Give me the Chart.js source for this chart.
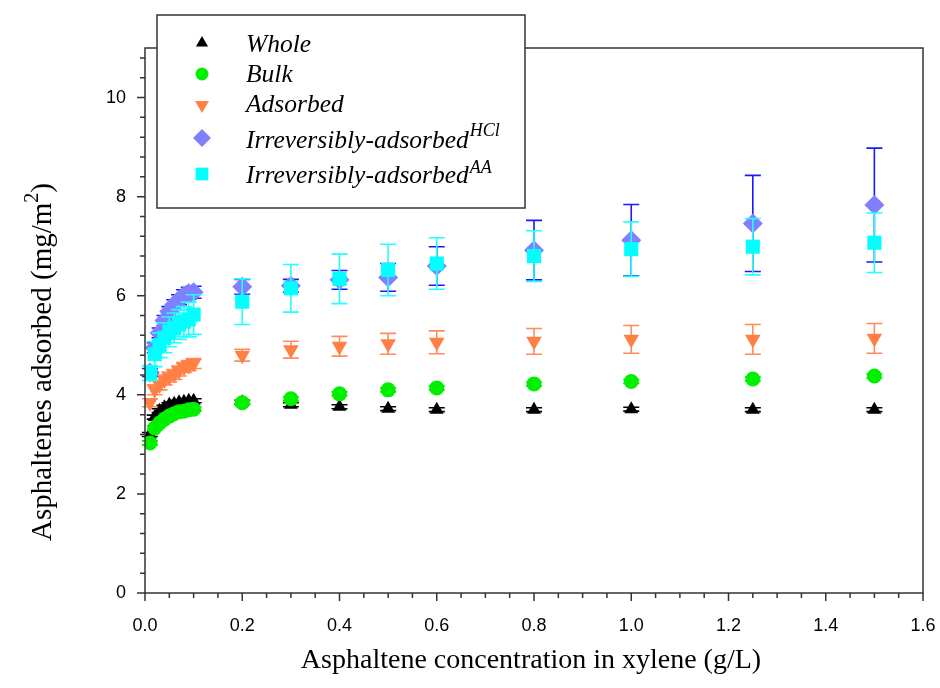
<!DOCTYPE html>
<html>
<head>
<meta charset="utf-8">
<script src="https://cdn.jsdelivr.net/npm/chart.js@4.4.0/dist/chart.umd.min.js"></script>
<style>
  html, body { margin: 0; padding: 0; background: #fff; }
</style>
</head>
<body>
<canvas id="chart" width="940" height="688"></canvas>
<script>
// concentrations (g/L) shared by every series
const concentration = [0.01, 0.02, 0.03, 0.04, 0.05, 0.06, 0.07, 0.08, 0.09, 0.1,
  0.2, 0.3, 0.4, 0.5, 0.6, 0.8, 1.0, 1.25, 1.5];

const whole = [3.2, 3.55, 3.68, 3.75, 3.8, 3.82, 3.85, 3.86, 3.88, 3.88,
  3.85, 3.8, 3.76, 3.72, 3.7, 3.7, 3.71, 3.7, 3.7];
const wholeErr = [0.04, 0.04, 0.04, 0.04, 0.04, 0.04, 0.04, 0.04, 0.04, 0.04,
  0.04, 0.04, 0.04, 0.04, 0.04, 0.04, 0.04, 0.04, 0.04];

const bulk = [3.03, 3.33, 3.43, 3.51, 3.57, 3.62, 3.66, 3.67, 3.7, 3.71,
  3.84, 3.92, 4.02, 4.1, 4.14, 4.22, 4.27, 4.32, 4.38];
const bulkErr = [0.04, 0.04, 0.04, 0.04, 0.04, 0.04, 0.04, 0.04, 0.04, 0.04,
  0.04, 0.04, 0.04, 0.04, 0.04, 0.04, 0.04, 0.04, 0.04];

const adsorbed = [3.84, 4.1, 4.2, 4.3, 4.36, 4.41, 4.48, 4.55, 4.59, 4.63,
  4.8, 4.91, 4.98, 5.03, 5.06, 5.08, 5.12, 5.12, 5.14];
const adsorbedErr = [0.08, 0.1, 0.1, 0.1, 0.1, 0.1, 0.1, 0.1, 0.1, 0.1,
  0.12, 0.17, 0.2, 0.21, 0.23, 0.26, 0.28, 0.3, 0.3];

const irrevHCl = [4.45, 4.95, 5.25, 5.5, 5.68, 5.82, 5.92, 6.0, 6.05, 6.07,
  6.18, 6.2, 6.32, 6.37, 6.6, 6.92, 7.12, 7.46, 7.83];
const irrevHClErr = [0.08, 0.1, 0.1, 0.1, 0.1, 0.1, 0.1, 0.12, 0.12, 0.12,
  0.15, 0.13, 0.19, 0.28, 0.39, 0.6, 0.72, 0.97, 1.15];

const irrevAA = [4.44, 4.82, 5.0, 5.15, 5.27, 5.35, 5.42, 5.48, 5.52, 5.62,
  5.88, 6.15, 6.34, 6.52, 6.65, 6.8, 6.94, 6.99, 7.07];
const irrevAAErr = [0.15, 0.25, 0.25, 0.3, 0.3, 0.3, 0.3, 0.3, 0.35, 0.4,
  0.46, 0.48, 0.5, 0.52, 0.52, 0.51, 0.55, 0.57, 0.6];

const seriesNames = ['Whole', 'Bulk', 'Adsorbed', 'Irreversibly-adsorbed', 'Irreversibly-adsorbed'];
const seriesSups = ['', '', '', 'HCl', 'AA'];

const xTicks = [0, 0.2, 0.4, 0.6, 0.8, 1.0, 1.2, 1.4, 1.6];
const yTicks = [0, 2, 4, 6, 8, 10];

const toPoints = (ys) => ys.map((y, i) => ({ x: concentration[i], y }));

const frameColor = '#333';
const serif = '"Liberation Serif", "Times New Roman", serif';

// error bars go under the markers of their own series
const errorBars = {
  id: 'errorBars',
  beforeDatasetDraw(chart, args) {
    const ds = chart.data.datasets[args.index];
    if (!ds.errors) return;
    const { ctx, scales: { x, y } } = chart;
    ctx.save();
    ctx.strokeStyle = ds.errorColor;
    ctx.lineWidth = 1.6;
    ctx.beginPath();
    ds.data.forEach((p, i) => {
      const e = ds.errors[i];
      const px = x.getPixelForValue(p.x);
      const top = y.getPixelForValue(p.y + e);
      const bot = y.getPixelForValue(p.y - e);
      ctx.moveTo(px, top); ctx.lineTo(px, bot);
      ctx.moveTo(px - 8, top); ctx.lineTo(px + 8, top);
      ctx.moveTo(px - 8, bot); ctx.lineTo(px + 8, bot);
    });
    ctx.stroke();
    ctx.restore();
  }
};

const frame = {
  id: 'frame',
  afterDraw(chart) {
    const { ctx, chartArea: a, scales: { x, y } } = chart;
    ctx.save();
    ctx.strokeStyle = frameColor;
    ctx.lineWidth = 1.5;
    ctx.strokeRect(a.left, a.top, a.right - a.left, a.bottom - a.top);

    // outward ticks, minor every 0.05 on x and 0.4 on y
    ctx.beginPath();
    for (let i = 0; i <= 32; i++) {
      const px = x.getPixelForValue(i * 0.05);
      const len = i % 4 === 0 ? 8 : 5;
      ctx.moveTo(px, a.bottom); ctx.lineTo(px, a.bottom + len);
    }
    for (let i = 0; i <= 27; i++) {
      const py = y.getPixelForValue(i * 0.4);
      const len = i % 5 === 0 ? 8 : 5;
      ctx.moveTo(a.left, py); ctx.lineTo(a.left - len, py);
    }
    ctx.stroke();

    // axis titles
    ctx.fillStyle = '#000';
    ctx.textAlign = 'center';
    ctx.textBaseline = 'middle';
    ctx.font = '28px ' + serif;
    ctx.fillText('Asphaltene concentration in xylene (g/L)', 531, 661);

    ctx.save();
    ctx.translate(42, 362);
    ctx.rotate(-Math.PI / 2);
    const main = 'Asphaltenes adsorbed (mg/m';
    ctx.font = '29px ' + serif;
    const w1 = ctx.measureText(main).width;
    ctx.font = '20px ' + serif;
    const w2 = ctx.measureText('2').width;
    ctx.font = '29px ' + serif;
    const w3 = ctx.measureText(')').width;
    const sx = -(w1 + w2 + w3) / 2;
    ctx.textAlign = 'left';
    ctx.textBaseline = 'alphabetic';
    ctx.fillText(main, sx, 9);
    ctx.font = '20px ' + serif;
    ctx.fillText('2', sx + w1, -4);
    ctx.font = '29px ' + serif;
    ctx.fillText(')', sx + w1 + w2, 9);
    ctx.restore();

    // legend box
    const L = { left: 157, top: 15, right: 525, bottom: 208 };
    ctx.fillStyle = '#fff';
    ctx.fillRect(L.left, L.top, L.right - L.left, L.bottom - L.top);
    ctx.strokeStyle = frameColor;
    ctx.lineWidth = 1.5;
    ctx.strokeRect(L.left, L.top, L.right - L.left, L.bottom - L.top);

    const markY = [43, 74, 105, 138, 174];
    const textY = [52, 82, 112, 148, 183];
    const supY = [0, 0, 0, 136, 173];
    chart.data.datasets.forEach((ds, i) => {
      ctx.fillStyle = ds.backgroundColor;
      Chart.helpers.drawPoint(ctx, {
        pointStyle: ds.pointStyle, radius: ds.pointRadius - 1,
        rotation: ds.pointRotation || 0, borderWidth: 0
      }, 202, markY[i]);
      ctx.fillStyle = '#000';
      ctx.textAlign = 'left';
      ctx.textBaseline = 'alphabetic';
      ctx.font = 'italic 25.5px ' + serif;
      ctx.fillText(seriesNames[i], 246, textY[i]);
      if (seriesSups[i]) {
        const w = ctx.measureText(seriesNames[i]).width;
        ctx.font = 'italic 18px ' + serif;
        ctx.fillText(seriesSups[i], 246 + w + 1, supY[i]);
      }
    });
    ctx.restore();
  }
};

new Chart(document.getElementById('chart'), {
  type: 'scatter',
  data: {
    datasets: [
      { label: 'Whole', data: toPoints(whole), errors: wholeErr, errorColor: '#000',
        pointStyle: 'triangle', pointRadius: 8, backgroundColor: '#000', order: 5 },
      { label: 'Bulk', data: toPoints(bulk), errors: bulkErr, errorColor: '#00e000',
        pointStyle: 'circle', pointRadius: 7.5, backgroundColor: '#00f000', order: 4 },
      { label: 'Adsorbed', data: toPoints(adsorbed), errors: adsorbedErr, errorColor: '#ff8c5c',
        pointStyle: 'triangle', pointRotation: 180, pointRadius: 9, backgroundColor: '#ff7f45', order: 3 },
      { label: 'Irreversibly-adsorbed HCl', data: toPoints(irrevHCl), errors: irrevHClErr, errorColor: '#1a1aff',
        pointStyle: 'rectRot', pointRadius: 10, backgroundColor: '#8080ff', order: 2 },
      { label: 'Irreversibly-adsorbed AA', data: toPoints(irrevAA), errors: irrevAAErr, errorColor: '#22ffff',
        pointStyle: 'rect', pointRadius: 10, backgroundColor: '#00ffff', order: 1 }
    ].map(ds => Object.assign({ borderWidth: 0, pointHoverRadius: ds.pointRadius, showLine: false }, ds))
  },
  options: {
    responsive: false,
    animation: false,
    events: [],
    layout: { padding: { top: 48, right: 17, left: 0, bottom: 0 } },
    plugins: { legend: { display: false }, tooltip: { enabled: false } },
    scales: {
      x: {
        type: 'linear', min: 0, max: 1.6,
        afterFit(scale) {
          scale.height = 95;
          scale.paddingLeft = 0;
          scale.paddingRight = 0;
        },
        afterBuildTicks(scale) { scale.ticks = xTicks.map(v => ({ value: v })); },
        grid: { display: false, drawTicks: false },
        border: { display: false },
        ticks: {
          padding: 22, color: '#000',
          font: { family: '"Liberation Sans", Arial, sans-serif', size: 18 },
          callback: v => v.toFixed(1)
        }
      },
      y: {
        type: 'linear', min: 0, max: 11,
        afterFit(scale) {
          scale.width = 145;
          scale.paddingTop = 0;
          scale.paddingBottom = 0;
        },
        afterBuildTicks(scale) { scale.ticks = yTicks.map(v => ({ value: v })); },
        grid: { display: false, drawTicks: false },
        border: { display: false },
        ticks: {
          padding: 19, color: '#000',
          font: { family: '"Liberation Sans", Arial, sans-serif', size: 18 },
          callback: v => String(v)
        }
      }
    }
  },
  plugins: [errorBars, frame]
});
</script>
</body>
</html>
